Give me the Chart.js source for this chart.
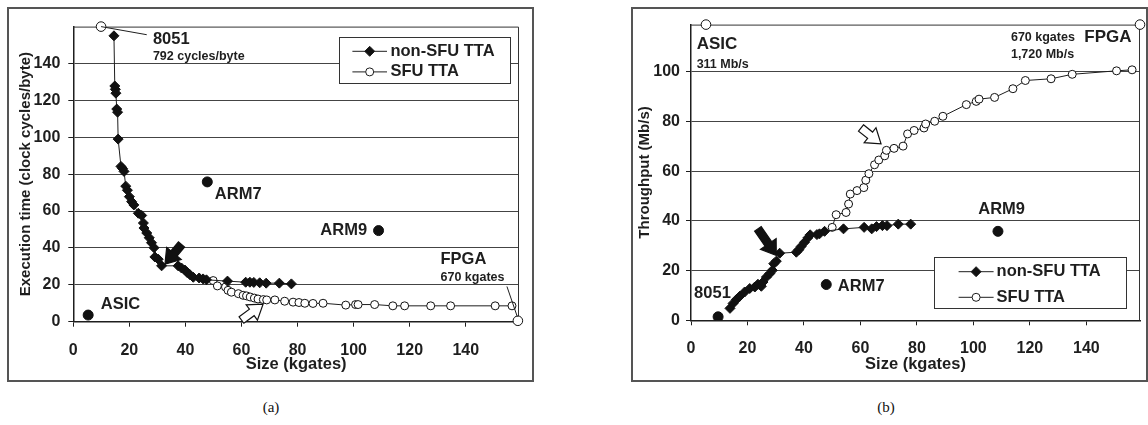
<!DOCTYPE html>
<html lang="en">
<head>
<meta charset="utf-8">
<title>TTA size versus execution time and throughput</title>
<script src="https://cdn.jsdelivr.net/npm/chart.js@4.4.1/dist/chart.umd.min.js"></script>
<style>
  body { margin: 0; width: 1148px; height: 425px; background: #fff; position: relative; overflow: hidden; }
  .panel { position: absolute; top: 7px; height: 375px; border: 2px solid #555; box-sizing: border-box; }
  #panel-a { left: 7px; width: 527px; }
  #panel-b { left: 631px; width: 517px; }
  .panel canvas { position: absolute; left: 0; top: 0; }
  .caption { position: absolute; top: 399px; width: 40px; margin-left: -20px; text-align: center;
    font: 15px "Liberation Serif", "Times New Roman", serif; color: #111; }
</style>
</head>
<body>
<div class="panel" id="panel-a"><canvas id="chart-a" width="523" height="371"></canvas></div>
<div class="panel" id="panel-b"><canvas id="chart-b" width="513" height="371"></canvas></div>
<div class="caption" style="left:271px">(a)</div>
<div class="caption" style="left:886px">(b)</div>

<script>
// (a) execution time, clock cycles per byte
const sizeNonSfuA = [14.5, 14.8, 15.0, 15.2, 15.5, 15.8, 16.0, 17.0, 17.6, 18.1, 18.7, 19.3, 20.0, 20.8, 21.6,
  23.2, 24.4, 25.0, 25.2, 26.2, 27.1, 27.9, 28.8, 29.1, 30.3, 31.5, 37.4, 38.6, 39.8, 40.6, 41.6, 42.8, 44.9,
  46.3, 47.5, 55.0, 61.5, 63.0, 64.4, 66.5, 68.8, 73.5, 77.8];
const cyclesNonSfuA = [155, 127.8, 126, 123.9, 115.3, 113.6, 99, 84.2, 83, 81.5, 73.5, 71.3, 67.8, 65.1, 63.3,
  58.8, 57.6, 53.5, 50.8, 48.1, 45.5, 42.8, 40.1, 35.1, 33.9, 30.3, 30.3, 29.1, 28.0, 26.7, 25.5, 24.1, 23.7,
  23.2, 22.7, 22.0, 21.4, 21.4, 21.3, 21.1, 20.9, 20.9, 20.5];
const sizeSfuA = [49.9, 51.4, 54.3, 55.2, 56.4, 58.9, 60.6, 61.8, 63.1, 64.6, 65.9, 67.8, 69.0, 71.9, 75.4,
  78.4, 80.5, 82.6, 85.5, 89.1, 97.2, 100.7, 101.6, 107.5, 114.0, 118.2, 127.5, 134.6, 150.5, 156.5];
const cyclesSfuA = [22.3, 19.4, 18.8, 17.0, 16.0, 15.2, 14.3, 14.0, 13.4, 12.8, 12.3, 12.0, 11.8, 11.8, 11.1,
  10.6, 10.4, 10.0, 9.9, 10.0, 9.0, 9.3, 9.3, 9.3, 8.6, 8.6, 8.6, 8.6, 8.6, 8.6];
// ASIC, ARM7, ARM9
const refSizeA = [5.3, 47.8, 108.9];
const refCyclesA = [3.6, 75.8, 49.4];
// off the scale: 8051 (792 cycles/byte), FPGA (670 kgates)
const offSizeA = [9.9, 158.6];
const offCyclesA = [160, 0.5];
const cycleTicks = [0, 20, 40, 60, 80, 100, 120, 140];

// (b) throughput, Mb/s
const sizeNonSfuB = [13.8, 14.9, 16.1, 17.3, 19.0, 20.8, 22.6, 23.7, 24.9, 25.5, 26.7, 27.9, 28.8, 29.3, 30.2,
  31.4, 37.3, 38.2, 39.0, 40.2, 41.4, 42.2, 44.6, 45.5, 47.3, 54.0, 61.3, 64.0, 65.7, 67.8, 69.4, 73.4, 77.8];
const tputNonSfuB = [4.8, 6.8, 8.4, 9.7, 11.4, 12.8, 13.4, 14.5, 13.7, 15.4, 17.4, 18.8, 20.1, 22.8, 23.8,
  27.0, 27.4, 28.4, 29.7, 31.4, 33.2, 34.4, 34.5, 34.8, 35.8, 36.8, 37.4, 36.8, 37.7, 38.1, 38.1, 38.7, 38.7];
const sizeSfuB = [50.0, 51.4, 54.9, 55.8, 56.4, 58.8, 61.2, 61.9, 63.0, 65.0, 66.5, 68.6, 69.2, 71.9, 75.1,
  76.7, 79.0, 82.5, 83.1, 86.3, 89.2, 97.5, 101.0, 102.0, 107.5, 114.0, 118.4, 127.5, 135.0, 150.7, 156.2];
const tputSfuB = [37.4, 42.5, 43.4, 46.8, 50.8, 52.2, 53.4, 56.4, 59.0, 62.6, 64.5, 66.2, 68.4, 69.2, 70.1,
  75.0, 76.4, 77.4, 79.0, 80.1, 82.1, 86.8, 88.1, 89.0, 89.7, 93.2, 96.5, 97.2, 99.0, 100.4, 100.8];
// 8051, ARM7, ARM9
const refSizeB = [9.6, 47.9, 108.7];
const refTputB = [1.4, 14.4, 35.8];
// off the scale: ASIC (311 Mb/s), FPGA (1,720 Mb/s)
const offSizeB = [5.3, 159];
const offTputB = [119, 119];
const tputTicks = [0, 20, 40, 60, 80, 100];

const sizeTicks = [0, 20, 40, 60, 80, 100, 120, 140];

const FONT = '"Liberation Sans", Arial, Helvetica, sans-serif';
const INK = "#1e1e1e";
const DIAMOND_RADIUS = 5;
const CIRCLE_RADIUS = 4;

const notesA = {
  labels: [
    { text: "8051", at: [28.4, 152.8], size: 16.5 },
    { text: "792 cycles/byte", at: [28.4, 143.7], size: 12.5 },
    { text: "ARM7", at: [50.5, 68.8], size: 16.5 },
    { text: "ASIC", at: [9.8, 9.5], size: 16.5 },
    { text: "ARM9", at: [104.8, 49.4], size: 16.5, align: "right" },
    { text: "FPGA", at: [131, 33.5], size: 16.5 },
    { text: "670 kgates", at: [131, 23.7], size: 12.5 },
  ],
  leaders: [
    [9.9, 160, 26.2, 155.6],
    [154.7, 19.1, 158.4, 2.7],
  ],
  arrows: [
    { from: [38.6, 41.9], to: [32.7, 31.2] },
    { from: [60.0, 0.9], to: [67.7, 9.5], hollow: true },
  ],
  legend: { right: 9, top: 10.3, width: 171, height: 46, rows: [14.4, 35], lineFrom: 13.4, lineTo: 48, textAt: 51.4 },
};

const notesB = {
  labels: [
    { text: "ASIC", at: [2.0, 111], size: 17 },
    { text: "311 Mb/s", at: [2.0, 102.8], size: 12.5 },
    { text: "670 kgates", at: [113.3, 113.7], size: 12.5 },
    { text: "FPGA", at: [156, 113.7], size: 17, align: "right" },
    { text: "1,720 Mb/s", at: [113.3, 106.8], size: 12.5 },
    { text: "8051", at: [1.1, 10.8], size: 16.5 },
    { text: "ARM7", at: [52, 13.7], size: 16.5 },
    { text: "ARM9", at: [110, 44.8], size: 16.5, align: "center" },
  ],
  leaders: [],
  arrows: [
    { from: [23.7, 36.8], to: [30.2, 26.1] },
    { from: [60.2, 77.4], to: [67.3, 71.0], hollow: true },
  ],
  legend: { right: 13.7, bottom: 12, width: 192, height: 51, rows: [14.4, 40], lineFrom: 24.3, lineTo: 59.3, textAt: 62.3 },
};

Chart.defaults.font.family = FONT;
Chart.defaults.font.weight = "bold";
Chart.defaults.color = INK;

makeChart("#chart-a", {
  nonSfu: toPoints(sizeNonSfuA, cyclesNonSfuA),
  sfu: toPoints(sizeSfuA, cyclesSfuA),
  refs: toPoints(refSizeA, refCyclesA),
  offScale: toPoints(offSizeA, offCyclesA),
  yMax: 160,
  yTicks: cycleTicks,
  yTitle: "Execution time (clock cycles/byte)",
  yWidth: 64.3,
  yTitlePad: 8,
  yTickPad: 8,
  xHeight: 58.3,
  padding: { top: 14, right: 13 },
  notes: notesA,
});

makeChart("#chart-b", {
  nonSfu: toPoints(sizeNonSfuB, tputNonSfuB),
  sfu: toPoints(sizeSfuB, tputSfuB),
  refs: toPoints(refSizeB, refTputB),
  offScale: toPoints(offSizeB, offTputB),
  yMax: 119,
  yTicks: tputTicks,
  yTitle: "Throughput (Mb/s)",
  yWidth: 58,
  yTitlePad: 3,
  yTickPad: 6,
  xHeight: 59.7,
  padding: { top: 13.7, right: 5 },
  notes: notesB,
});

function toPoints(xs, ys) {
  return xs.map((x, i) => ({ x, y: ys[i] }));
}

function makeChart(selector, setup) {
  const ctx = document.querySelector(selector).getContext("2d");
  return new Chart(ctx, {
    type: "scatter",
    data: {
      datasets: [
        {
          label: "non-SFU TTA",
          data: setup.nonSfu,
          showLine: true,
          borderColor: INK,
          borderWidth: 1,
          pointStyle: "rectRot",
          pointRadius: DIAMOND_RADIUS,
          pointBackgroundColor: "#111",
          pointBorderColor: "#111",
          pointBorderWidth: 1,
          order: 2,
        },
        {
          label: "SFU TTA",
          data: setup.sfu,
          showLine: true,
          borderColor: INK,
          borderWidth: 1,
          pointStyle: "circle",
          pointRadius: CIRCLE_RADIUS,
          pointBackgroundColor: "#fff",
          pointBorderColor: "#111",
          pointBorderWidth: 1,
          order: 3,
        },
        {
          label: "reference",
          data: setup.refs,
          pointStyle: "circle",
          pointRadius: 5,
          pointBackgroundColor: "#111",
          pointBorderColor: "#111",
          order: 1,
        },
        {
          label: "off scale",
          data: setup.offScale,
          pointStyle: "circle",
          pointRadius: 4.8,
          pointBackgroundColor: "#fff",
          pointBorderColor: "#111",
          pointBorderWidth: 1,
          clip: false,
          order: 0,
        },
      ],
    },
    options: {
      responsive: false,
      animation: false,
      events: [],
      layout: { padding: { left: 0, bottom: 0, ...setup.padding } },
      scales: {
        x: {
          type: "linear",
          min: 0,
          max: 159,
          afterBuildTicks: (axis) => {
            axis.ticks = sizeTicks.map((value) => ({ value }));
          },
          afterFit: (axis) => {
            axis.height = setup.xHeight;
          },
          grid: { drawOnChartArea: false, tickLength: 5, color: INK },
          border: { color: INK, width: 1.5 },
          ticks: { autoSkip: false, maxRotation: 0, padding: 14, font: { size: 16 } },
          title: { display: true, text: "Size (kgates)", font: { size: 16.5 }, padding: { top: 0, bottom: 5.5 } },
        },
        y: {
          min: 0,
          max: setup.yMax,
          afterBuildTicks: (axis) => {
            axis.ticks = setup.yTicks.map((value) => ({ value }));
          },
          afterFit: (axis) => {
            axis.width = setup.yWidth;
          },
          grid: { color: "#444", lineWidth: 1, tickLength: 5, tickColor: INK },
          border: { color: INK, width: 1.5 },
          ticks: { padding: setup.yTickPad, font: { size: 16 } },
          title: { display: true, text: setup.yTitle, font: { size: 15 }, padding: { top: setup.yTitlePad, bottom: 0 } },
        },
      },
      plugins: {
        legend: { display: false },
        tooltip: { enabled: false },
      },
    },
    plugins: [notesPlugin(setup.notes)],
  });
}

function notesPlugin(notes) {
  return {
    id: "notes",
    beforeDatasetsDraw(chart) {
      // top and right edge of the plot frame
      const { ctx, chartArea: area } = chart;
      ctx.save();
      ctx.strokeStyle = "#333";
      ctx.lineWidth = 1;
      ctx.beginPath();
      ctx.moveTo(area.left, area.top + 0.5);
      ctx.lineTo(area.right - 0.5, area.top + 0.5);
      ctx.lineTo(area.right - 0.5, area.bottom);
      ctx.stroke();
      ctx.restore();
    },
    afterDatasetsDraw(chart) {
      const { ctx, chartArea, scales } = chart;
      const px = (value) => scales.x.getPixelForValue(value);
      const py = (value) => scales.y.getPixelForValue(value);
      ctx.save();

      ctx.strokeStyle = INK;
      ctx.lineWidth = 1;
      notes.leaders.forEach(([x1, y1, x2, y2]) => {
        ctx.beginPath();
        ctx.moveTo(px(x1), py(y1));
        ctx.lineTo(px(x2), py(y2));
        ctx.stroke();
      });

      notes.arrows.forEach((arrow) => {
        drawArrow(ctx, px(arrow.from[0]), py(arrow.from[1]), px(arrow.to[0]), py(arrow.to[1]), arrow.hollow);
      });

      ctx.fillStyle = INK;
      ctx.textBaseline = "middle";
      notes.labels.forEach((label) => {
        ctx.font = `bold ${label.size}px ${FONT}`;
        ctx.textAlign = label.align || "left";
        ctx.fillText(label.text, px(label.at[0]), py(label.at[1]));
      });

      drawLegend(ctx, chartArea, notes.legend, chart.data.datasets.slice(0, 2));
      ctx.restore();
    },
  };
}

function drawArrow(ctx, x1, y1, x2, y2, hollow) {
  const length = Math.hypot(x2 - x1, y2 - y1);
  const head = 14;
  const halfHead = 9.5;
  const halfShaft = 4;
  ctx.save();
  ctx.translate(x1, y1);
  ctx.rotate(Math.atan2(y2 - y1, x2 - x1));
  ctx.beginPath();
  ctx.moveTo(0, -halfShaft);
  ctx.lineTo(length - head, -halfShaft);
  ctx.lineTo(length - head, -halfHead);
  ctx.lineTo(length, 0);
  ctx.lineTo(length - head, halfHead);
  ctx.lineTo(length - head, halfShaft);
  ctx.lineTo(0, halfShaft);
  ctx.closePath();
  ctx.fillStyle = hollow ? "#fff" : "#111";
  ctx.fill();
  ctx.lineWidth = 1.2;
  ctx.strokeStyle = "#111";
  ctx.stroke();
  ctx.restore();
}

function drawMarker(ctx, style, x, y, radius, fill) {
  ctx.beginPath();
  if (style === "rectRot") {
    ctx.moveTo(x - radius, y);
    ctx.lineTo(x, y - radius);
    ctx.lineTo(x + radius, y);
    ctx.lineTo(x, y + radius);
    ctx.closePath();
  } else {
    ctx.arc(x, y, radius, 0, Math.PI * 2);
  }
  ctx.fillStyle = fill;
  ctx.fill();
  ctx.stroke();
}

function drawLegend(ctx, area, legend, datasets) {
  const left = area.right - legend.right - legend.width;
  const top = legend.top !== undefined ? area.top + legend.top : area.bottom - legend.bottom - legend.height;

  ctx.fillStyle = "#fff";
  ctx.fillRect(left, top, legend.width, legend.height);
  ctx.strokeStyle = "#333";
  ctx.lineWidth = 1;
  ctx.strokeRect(Math.round(left) + 0.5, Math.round(top) + 0.5, legend.width, legend.height);

  ctx.font = `bold 16.5px ${FONT}`;
  ctx.textAlign = "left";
  ctx.textBaseline = "middle";
  datasets.forEach((dataset, i) => {
    const y = top + legend.rows[i];
    ctx.strokeStyle = INK;
    ctx.beginPath();
    ctx.moveTo(left + legend.lineFrom, y);
    ctx.lineTo(left + legend.lineTo, y);
    ctx.stroke();
    const mid = left + (legend.lineFrom + legend.lineTo) / 2;
    drawMarker(ctx, dataset.pointStyle, mid, y, dataset.pointRadius, dataset.pointBackgroundColor);
    ctx.fillStyle = INK;
    ctx.fillText(dataset.label, left + legend.textAt, y);
  });
}
</script>
</body>
</html>
